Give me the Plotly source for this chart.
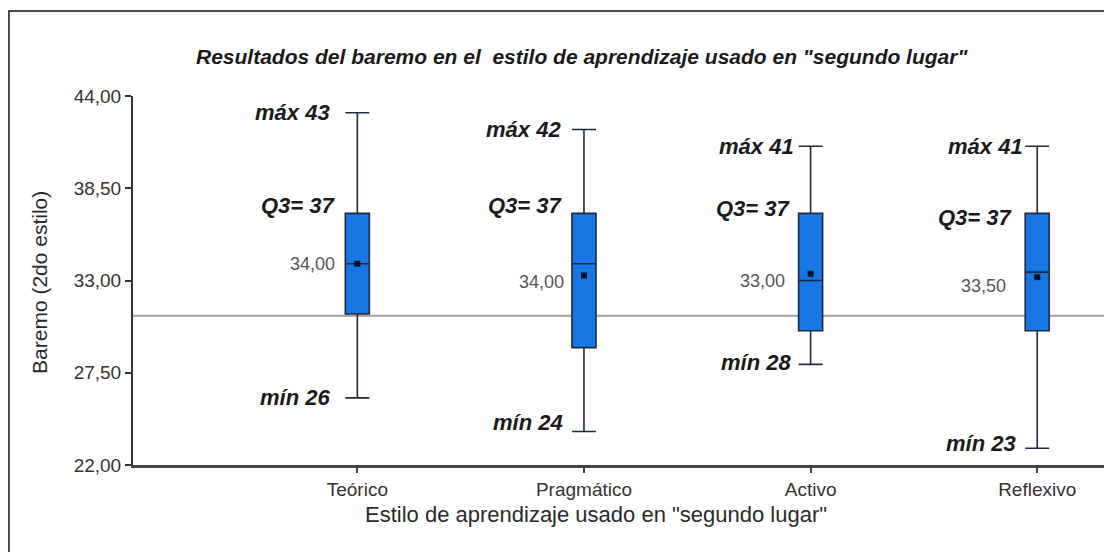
import plotly.graph_objects as go

# ---- data ----
categories = ["Teórico", "Pragmático", "Activo", "Reflexivo"]
q1 = [31, 29, 30, 30]
median = [34, 34, 33, 33.5]
q3 = [37, 37, 37, 37]
minimum = [26, 24, 28, 23]
maximum = [43, 42, 41, 41]
mean = [34, 33.3, 33.4, 33.2]
reference_value = 30.9
median_labels = ["34,00", "34,00", "33,00", "33,50"]
y_tickvals = [22, 27.5, 33, 38.5, 44]
y_ticktext = ["22,00", "27,50", "33,00", "38,50", "44,00"]

# ---- style helpers (pixel offsets only) ----
max_dx = [-25, -21, -15, -12]
q3_dx = [-19, -19, -18, -22]
q3_dy = [8, 8, 5, -4]
min_dx = [-25, -19, -18, -19]
min_dy = [0, 9, 2, 5]
med_dx = [-20, -18, -24, -29]
med_dy = [0, -18, 0, -14]

FONT = "Liberation Sans, Arial, sans-serif"

fig = go.Figure()

fig.add_trace(go.Box(
    x=categories,
    q1=q1, median=median, q3=q3,
    lowerfence=minimum, upperfence=maximum,
    boxpoints=False,
    width=0.106,
    whiskerwidth=1,
    fillcolor="#1677e5",
    line=dict(color="#1f2940", width=1.6),
    showlegend=False,
    hoverinfo="skip",
))

fig.add_trace(go.Scatter(
    x=categories, y=mean, mode="markers",
    marker=dict(symbol="square", size=6, color="#0a1030"),
    showlegend=False, hoverinfo="skip",
))

# reference line
fig.add_shape(type="line", xref="paper", x0=0, x1=1, yref="y",
              y0=reference_value, y1=reference_value,
              line=dict(color="#a0a0a0", width=2), layer="below")

# outer frame
fig.add_shape(type="rect", xref="paper", yref="paper",
              x0=-0.1267, x1=1.2, y0=-0.5, y1=1.2304,
              line=dict(color="#111111", width=1.5), fillcolor="rgba(0,0,0,0)")

lab_font = dict(family=FONT, size=22, color="#1a1a1a")
for i, c in enumerate(categories):
    fig.add_annotation(x=c, y=maximum[i], text=f"<b><i>máx {maximum[i]}</i></b>",
                       showarrow=False, xanchor="right", yanchor="middle",
                       xshift=max_dx[i], font=lab_font)
    fig.add_annotation(x=c, y=q3[i], text=f"<b><i>Q3= {q3[i]}</i></b>",
                       showarrow=False, xanchor="right", yanchor="middle",
                       xshift=q3_dx[i], yshift=q3_dy[i], font=lab_font)
    fig.add_annotation(x=c, y=minimum[i], text=f"<b><i>mín {minimum[i]}</i></b>",
                       showarrow=False, xanchor="right", yanchor="middle",
                       xshift=min_dx[i], yshift=min_dy[i], font=lab_font)
    fig.add_annotation(x=c, y=median[i], text=median_labels[i],
                       showarrow=False, xanchor="right", yanchor="middle",
                       xshift=med_dx[i], yshift=med_dy[i],
                       font=dict(family=FONT, size=18, color="#555555"))

# title and axis titles
fig.add_annotation(xref="paper", yref="paper", x=0.4586, y=1.1057,
                   text='<b><i>Resultados del baremo en el  estilo de aprendizaje usado en "segundo lugar"</i></b>',
                   showarrow=False, xanchor="center", yanchor="middle",
                   font=dict(family=FONT, size=21, color="#1a1a1a"))
fig.add_annotation(xref="paper", yref="paper", x=0.473, y=-0.1355,
                   text='Estilo de aprendizaje usado en "segundo lugar"',
                   showarrow=False, xanchor="center", yanchor="middle",
                   font=dict(family=FONT, size=22, color="#2a2a2a"))
fig.add_annotation(xref="paper", yref="paper", x=-0.095, y=0.496,
                   text="Baremo (2do estilo)", textangle=-90,
                   showarrow=False, xanchor="center", yanchor="middle",
                   font=dict(family=FONT, size=21, color="#2a2a2a"))

# the page body has an 8px default margin, so the figure is sized to fill the rest
fig.update_layout(
    width=1104, height=544,
    margin=dict(l=125, r=0, t=88, b=87),
    paper_bgcolor="white", plot_bgcolor="white",
    font=dict(family=FONT),
    xaxis=dict(
        type="category", range=[-0.99, 3.33],
        showline=True, linecolor="#444444", linewidth=2.5,
        ticks="outside", ticklen=5, tickwidth=1.5, tickcolor="#444444",
        showgrid=False, zeroline=False,
        tickfont=dict(family=FONT, size=19, color="#333333"),
    ),
    yaxis=dict(
        range=[22, 44], tickvals=y_tickvals, ticktext=y_ticktext,
        showline=True, linecolor="#333333", linewidth=2,
        ticks="outside", ticklen=6, tickwidth=1.5, tickcolor="#333333",
        showgrid=False, zeroline=False,
        tickfont=dict(family=FONT, size=19, color="#333333"),
    ),
)

fig.write_html("out.html")
